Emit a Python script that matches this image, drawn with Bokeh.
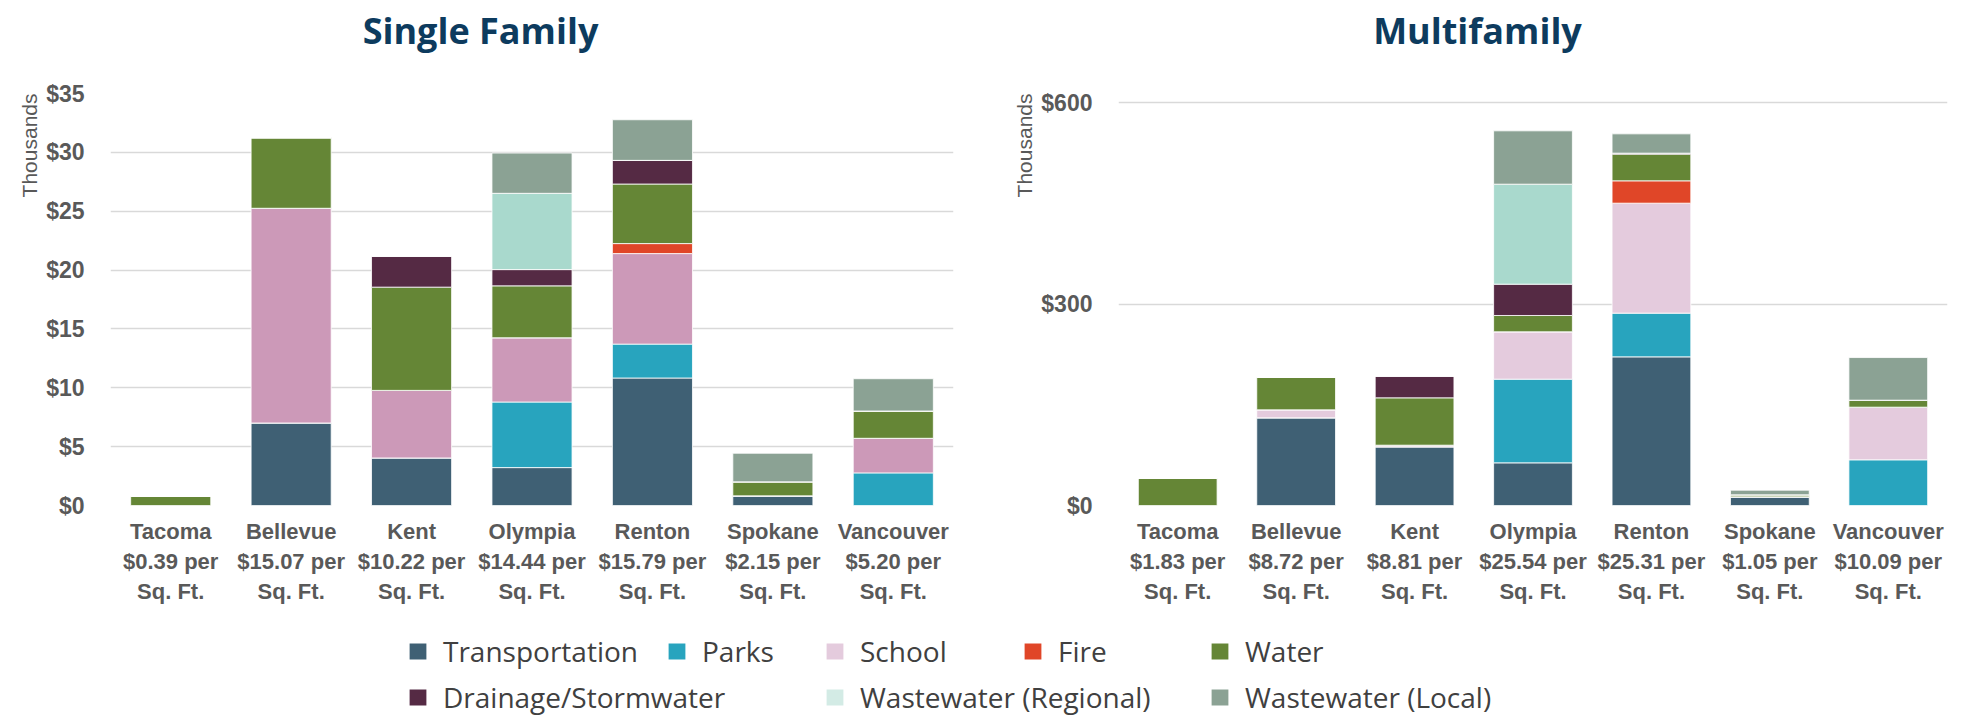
from bokeh.plotting import figure
from bokeh.models import (ColumnDataSource, FactorRange, Range1d, FixedTicker,
                          NumeralTickFormatter, Title, Legend, LegendItem, Label)
from bokeh.layouts import row, column
from bokeh.embed import file_html
from bokeh.resources import INLINE

# ---------------- data ----------------
cities = ["Tacoma", "Bellevue", "Kent", "Olympia", "Renton", "Spokane", "Vancouver"]
fee_types = ["Transportation", "Parks", "School", "Fire", "Water",
             "Drainage/Stormwater", "Wastewater (Regional)", "Wastewater (Local)"]

# Single family fees, thousands of dollars
sf_transportation = [0, 7.01, 4.04, 3.22, 10.83, 0.82, 0]
sf_parks = [0, 0, 0, 5.57, 2.88, 0, 2.77]
sf_school = [0, 18.24, 5.74, 5.46, 7.69, 0, 2.94]
sf_fire = [0, 0, 0, 0, 0.85, 0, 0]
sf_water = [0.79, 5.99, 8.77, 4.41, 5.06, 1.19, 2.32]
sf_drainage = [0, 0, 2.63, 1.38, 2.01, 0, 0]
sf_ww_regional = [0, 0, 0, 6.48, 0, 0, 0]
sf_ww_local = [0, 0, 0, 3.42, 3.45, 2.43, 2.74]
sf_per_sqft = ["$0.39", "$15.07", "$10.22", "$14.44", "$15.79", "$2.15", "$5.20"]

# Multifamily fees, thousands of dollars
mf_transportation = [0, 130.5, 87.3, 63.5, 221.3, 12.9, 0]
mf_parks = [0, 0, 0, 124.6, 65.1, 0, 68.0]
mf_school = [0, 11.9, 2.5, 70.5, 163.7, 0, 78.4]
mf_fire = [0, 0, 0, 0, 33.3, 0, 0]
mf_water = [40.2, 48.2, 70.5, 24.3, 39.7, 3.0, 10.4]
mf_drainage = [0, 0, 32.3, 46.6, 1.5, 0, 0]
mf_ww_regional = [0, 0, 0, 148.9, 0, 0, 0]
mf_ww_local = [0, 0, 0, 79.4, 28.7, 6.9, 63.5]
mf_per_sqft = ["$1.83", "$8.72", "$8.81", "$25.54", "$25.31", "$1.05", "$10.09"]

sf_ticks = [0, 5, 10, 15, 20, 25, 30, 35]
mf_ticks = [0, 300, 600]
chart_titles = ["Single Family", "Multifamily"]
unit_label = "Thousands"

# ---------------- styles / layout ----------------
colors_sf = ["#3F6074", "#28A4BE", "#CC99B8", "#E04628", "#658636",
             "#552A44", "#A9D9CD", "#8BA294"]
colors_mf = ["#3F6074", "#28A4BE", "#E4CBDD", "#E04628", "#658636",
             "#552A44", "#A9D9CD", "#8BA294"]
legend_colors = ["#3F6074", "#28A4BE", "#E4CBDD", "#E04628", "#658636",
                 "#552A44", "#D3EBE5", "#8BA294"]
TITLE_COLOR = "#0D3B5E"
AXIS_TEXT = "#595959"
GRID = "#D9D9D9"
W = 1963
TITLE_H = 60
CHART_H = 565
LEG_H = 92
FRAME_TOP = 93        # screen y of the plot frames' top edge
FRAME_BOTTOM = 505    # screen y of the zero line
SF_YMAX = 35
# the multifamily $600 line sits 9px below the shared frame top
MF_YMAX = 600 * (FRAME_BOTTOM - FRAME_TOP) / (FRAME_BOTTOM - 102)


def bare(fig):
    fig.outline_line_color = None
    fig.xgrid.grid_line_color = None
    fig.ygrid.grid_line_color = None
    return fig


def make_chart(series, per_sqft, ticks, ymax, colors, width, mb_left, mb_right):
    labels = [f"{c}\n{v} per\nSq. Ft." for c, v in zip(cities, per_sqft)]
    data = {"label": labels}
    for name, vals in zip(fee_types, series):
        data[name] = vals
    src = ColumnDataSource(data)
    p = figure(title=None, x_range=FactorRange(*labels), y_range=Range1d(0, ymax),
               width=width, height=CHART_H, output_backend="svg",
               toolbar_location=None, min_border_left=mb_left,
               min_border_right=mb_right, min_border_top=FRAME_TOP - TITLE_H,
               min_border_bottom=TITLE_H + CHART_H - FRAME_BOTTOM)
    p.vbar_stack(fee_types, x="label", width=0.665, color=colors, source=src,
                 line_color="white", line_width=0.8)

    p.outline_line_color = None
    p.xgrid.grid_line_color = None
    p.ygrid.grid_line_color = GRID
    p.ygrid.grid_line_width = 1.5

    p.yaxis.ticker = FixedTicker(ticks=ticks)
    p.yaxis.formatter = NumeralTickFormatter(format="$0,0")
    p.yaxis.axis_line_color = None
    p.yaxis.major_tick_line_color = None
    p.yaxis.minor_tick_line_color = None
    p.yaxis.major_label_text_font = "Liberation Sans"
    p.yaxis.major_label_text_font_style = "bold"
    p.yaxis.major_label_text_font_size = "23px"
    p.yaxis.major_label_text_color = AXIS_TEXT
    p.yaxis.major_label_standoff = 20

    p.xaxis.axis_line_color = None
    p.xaxis.major_tick_line_color = None
    p.xaxis.major_tick_in = 0
    p.xaxis.major_tick_out = 0
    p.xaxis.major_label_text_font = "Liberation Sans"
    p.xaxis.major_label_text_font_style = "bold"
    p.xaxis.major_label_text_font_size = "22px"
    p.xaxis.major_label_text_color = AXIS_TEXT
    p.xaxis.major_label_text_line_height = 1.2
    p.xaxis.major_label_standoff = 13

    # "Thousands" unit label, top-aligned at the left of the value axis
    p.add_layout(Title(text=unit_label, align="right", offset=0,
                       text_font="Liberation Sans", text_font_style="normal",
                       text_font_size="21px", text_color=AXIS_TEXT, standoff=6),
                 "left")
    return p


def strip(height, x_end, y_end):
    return bare(figure(title=None, width=W, height=height, output_backend="svg",
                       toolbar_location=None, x_range=Range1d(0, x_end),
                       y_range=Range1d(0, y_end), x_axis_location=None,
                       y_axis_location=None, min_border=0, min_border_left=0,
                       min_border_right=0, min_border_top=0, min_border_bottom=0))


# ---------------- title strip ----------------
ptitle = strip(TITLE_H, W, TITLE_H)
for txt, cx in zip(chart_titles, [480, 1477]):
    ptitle.add_layout(Label(x=cx, y=TITLE_H - 30, text=txt, text_align="center",
                            text_baseline="alphabetic", text_font="Open Sans",
                            text_font_style="bold", text_font_size="36px",
                            text_color=TITLE_COLOR))

p1 = make_chart([sf_transportation, sf_parks, sf_school, sf_fire, sf_water,
                 sf_drainage, sf_ww_regional, sf_ww_local],
                sf_per_sqft, sf_ticks, SF_YMAX, colors_sf, 985, 110, 32)
p2 = make_chart([mf_transportation, mf_parks, mf_school, mf_fire, mf_water,
                 mf_drainage, mf_ww_regional, mf_ww_local],
                mf_per_sqft, mf_ticks, MF_YMAX, colors_mf, 978, 133, 16)

# ---------------- legend strip ----------------
pleg = strip(LEG_H, 1, 1)

# screen positions of legend entries (left edge of swatch, vertical centre)
legend_x = [407, 666, 824, 1022, 1209, 407, 824, 1209]
legend_y = [660, 660, 660, 660, 660, 706, 706, 706]
ITEM_H = 20
for name, col, lx, ly in zip(fee_types, legend_colors, legend_x, legend_y):
    # zero-size placeholder glyph, only used to draw the legend swatch
    r = pleg.vbar(x=[0.5], top=[0], bottom=[0], width=0, fill_color=col,
                  line_color=None)
    lg = Legend(items=[LegendItem(label=name, renderers=[r])],
                location=(lx, 717 - (ly + ITEM_H / 2)),
                orientation="horizontal", padding=0, margin=0, spacing=0,
                border_line_color=None, background_fill_alpha=0,
                glyph_width=21, glyph_height=ITEM_H, label_standoff=15,
                label_height=ITEM_H, label_text_font="Open Sans",
                label_text_font_size="28px", label_text_color="#404040",
                label_text_line_height=0.7, label_text_baseline="middle")
    pleg.add_layout(lg, "center")

layout = column(ptitle, row(p1, p2), pleg)
open("out.html", "w").write(file_html(layout, INLINE))
